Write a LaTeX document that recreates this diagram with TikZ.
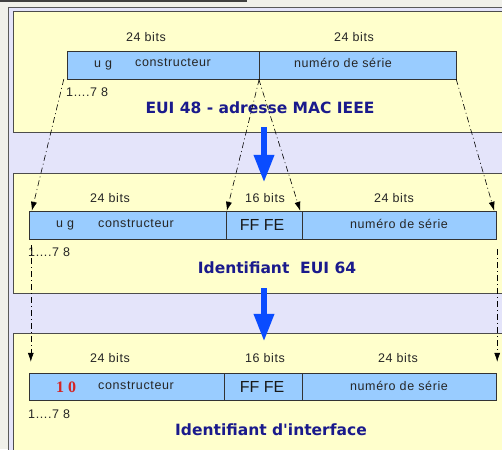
\documentclass[tikz,border=0pt]{standalone}
\usepackage{fontspec}
\setmainfont{Liberation Sans}
\newfontfamily\lblfont[LetterSpace=5]{Liberation Sans}
\newfontfamily\titrefont{DejaVu Sans}
\newfontfamily\chiffrefont{Liberation Serif}
\usetikzlibrary{arrows.meta}
\definecolor{fond}{HTML}{F0F0EA}
\definecolor{lavande}{HTML}{E4E4FA}
\definecolor{jaune}{HTML}{FFFFCC}
\definecolor{bleuchamp}{HTML}{99CCFF}
\definecolor{bleutitre}{HTML}{1A1A8C}
\definecolor{bleufleche}{HTML}{0A4CFF}
\definecolor{rouge}{HTML}{D42424}

\begin{document}
\begin{tikzpicture}[x=1pt, y=-1pt,
  panel/.style={draw=black!70, fill=jaune, minimum width=493pt, inner sep=0pt},
  seg/.style={draw=black!80, fill=bleuchamp, minimum height=28pt, inner sep=0pt},
  lbl/.style={inner sep=0pt, font=\lblfont\fontsize{12.5}{14}\selectfont, text=black!85},
  ffbox/.style={inner sep=0pt, font=\fontsize{16}{18}\selectfont, text=black!90},
  titre/.style={inner sep=0pt, font=\titrefont\bfseries\fontsize{15.5}{17}\selectfont, text=bleutitre},
  lien/.style={line width=0.6pt, dash pattern=on 6pt off 3pt on 1pt off 3pt, -{Latex[length=9pt,width=6pt]}},
  fleche/.style={bleufleche, line width=6.5pt, -{Triangle[length=28pt,width=19pt]}}]
\clip (0,0) rectangle (502,449);
% Fond
\fill[fond] (0,0) rectangle (502,449);
\fill[black!75] (0,0) rectangle (247,2);
\draw[black!65, fill=lavande] (8,7) rectangle (520,470);
% Cadres
\node[panel, minimum height=121pt] (panel1) at (259.5,71.5) {};
\node[panel, minimum height=120pt] (panel2) at (259.5,233) {};
\node[panel, minimum height=127pt] (panel3) at (259.5,396.5) {};
% EUI 48
\node[lbl] (bits1a) at (146,37) {24 bits};
\node[lbl] (bits1b) at (354,37) {24 bits};
\node[seg, minimum width=192pt] (mac1) at (163,65) {};
\node[seg, minimum width=197pt] (ser1) at (357.5,65) {};
\node[lbl] (ug1) at (103,65) {u g};
\node[lbl] (cons1) at (173,63) {constructeur};
\node[lbl] (num1) at (343,63) {numéro de série};
\node[lbl, anchor=west] (pos1) at (66,92) {1....7 8};
\node[titre] (titre1) at (260,108) {EUI 48 - adresse MAC IEEE};
% EUI 64
\node[lbl] (bits2a) at (110,198) {24 bits};
\node[lbl] (bits2b) at (265,198) {16 bits};
\node[lbl] (bits2c) at (394,198) {24 bits};
\node[seg, minimum width=197pt] (con2) at (127.5,225) {};
\node[seg, minimum width=76pt] (ff2) at (264,225) {};
\node[seg, minimum width=194pt] (ser2) at (399,225) {};
\node[lbl] (ug2) at (65,225) {u g};
\node[lbl] (cons2) at (136,224) {constructeur};
\node[ffbox] (fffe2) at (262,225) {FF FE};
\node[lbl] (num2) at (399,224) {numéro de série};
\node[lbl, anchor=west] (pos2) at (28,252) {1....7 8};
\node[titre] (titre2) at (277,268) {Identifiant\ \ EUI 64};
% Identifiant d'interface
\node[lbl] (bits3a) at (110,358) {24 bits};
\node[lbl] (bits3b) at (265,358) {16 bits};
\node[lbl] (bits3c) at (398,358) {24 bits};
\node[seg, minimum width=195pt, minimum height=27pt] (con3) at (126.5,386.5) {};
\node[seg, minimum width=78pt, minimum height=27pt] (ff3) at (263,386.5) {};
\node[seg, minimum width=194pt, minimum height=27pt] (ser3) at (399,386.5) {};
\node[inner sep=0pt, font=\chiffrefont\bfseries\fontsize{16}{18}\selectfont, text=rouge] (ul3) at (66,387) {1 0};
\node[lbl] (cons3) at (136,386) {constructeur};
\node[ffbox] (fffe3) at (262,387) {FF FE};
\node[lbl] (num3) at (399,386) {numéro de série};
\node[lbl, anchor=west] (pos3) at (28,414) {1....7 8};
\node[titre] (titre3) at (271,430) {Identifiant d'interface};
% Liens
\draw[lien] ([xshift=-3pt]mac1.south west) -- ([xshift=3pt]con2.north west);
\draw[lien] (mac1.south east) -- ([xshift=1pt]ff2.north west);
\draw[lien] (ser1.south west) -- ([xshift=-2pt]ff2.north east);
\draw[lien] (ser1.south east) -- ([xshift=-2pt]ser2.north east);
\draw[lien, shorten <=6pt, shorten >=11pt] ([xshift=2pt]con2.south west) -- ([xshift=2pt]con3.north west);
\draw[lien, shorten <=10pt, shorten >=11pt] ([xshift=1pt]ser2.south east) -- ([xshift=1pt]ser3.north east);
% Fleches
\draw[fleche] ([yshift=5pt]panel1.south -| ff2.north) -- ([yshift=-10pt]panel2.north -| ff2.north);
\draw[fleche] ([yshift=5pt]panel2.south -| ff2.north) -- ([yshift=-9pt]panel3.north -| ff2.north);
\end{tikzpicture}
\end{document}
